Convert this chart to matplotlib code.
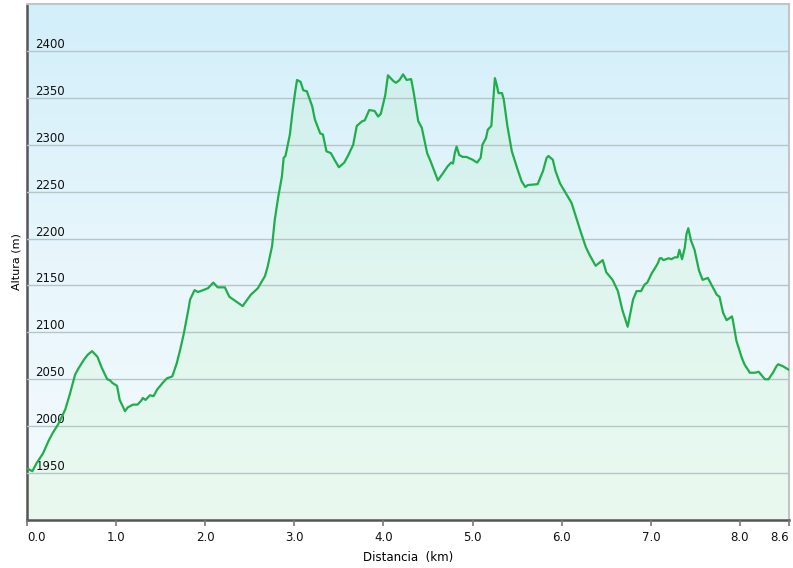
import numpy as np
import matplotlib
matplotlib.use("Agg")
from matplotlib import pyplot as plt
from matplotlib.colors import LinearSegmentedColormap

# Elevation profile (distance in km, altitude in m)
distance_km = [
    0.00, 0.06, 0.11, 0.18, 0.24, 0.29, 0.35, 0.43, 0.48, 0.54,
    0.58, 0.64, 0.68, 0.73, 0.79, 0.84, 0.90, 0.93, 0.96, 1.01,
    1.04, 1.10, 1.13, 1.19, 1.24, 1.28, 1.30, 1.33, 1.38, 1.42,
    1.46, 1.53, 1.57, 1.63, 1.68, 1.72, 1.76, 1.81, 1.83, 1.88,
    1.92, 2.03, 2.09, 2.14, 2.22, 2.27, 2.33, 2.42, 2.51, 2.59,
    2.67, 2.70, 2.75, 2.78, 2.82, 2.86, 2.88, 2.90, 2.95, 2.98,
    3.01, 3.03, 3.07, 3.10, 3.14, 3.20, 3.23, 3.29, 3.32, 3.36,
    3.41, 3.45, 3.50, 3.56, 3.60, 3.66, 3.70, 3.76, 3.79, 3.84,
    3.90, 3.94, 3.97, 4.02, 4.05, 4.11, 4.14, 4.18, 4.22, 4.26,
    4.31, 4.34, 4.39, 4.43, 4.49, 4.53, 4.61, 4.67, 4.72, 4.76,
    4.78, 4.80, 4.82, 4.85, 4.89, 4.93, 5.00, 5.05, 5.09, 5.11,
    5.15, 5.17, 5.21, 5.23, 5.25, 5.27, 5.29, 5.33, 5.35, 5.39,
    5.44, 5.50, 5.55, 5.59, 5.62, 5.73, 5.79, 5.83, 5.85, 5.90,
    5.93, 5.98, 6.01, 6.11, 6.17, 6.21, 6.27, 6.31, 6.38, 6.46,
    6.50, 6.57, 6.63, 6.68, 6.74, 6.80, 6.84, 6.89, 6.93, 6.96,
    7.01, 7.05, 7.08, 7.10, 7.12, 7.14, 7.20, 7.23, 7.27, 7.30,
    7.32, 7.35, 7.38, 7.40, 7.42, 7.45, 7.49, 7.54, 7.58, 7.64,
    7.69, 7.74, 7.77, 7.81, 7.85, 7.91, 7.92, 7.96, 8.02, 8.05,
    8.11, 8.17, 8.21, 8.28, 8.32, 8.37, 8.41, 8.43, 8.48, 8.55,
]
altitude_m = [
    1955, 1952, 1961, 1971, 1984, 1993, 2002, 2018, 2034, 2055,
    2062, 2071, 2076, 2080, 2074, 2062, 2050, 2049, 2046, 2043,
    2028, 2016, 2020, 2023, 2023, 2027, 2030, 2028, 2033, 2032,
    2039, 2047, 2051, 2053, 2067, 2082, 2099, 2124, 2135, 2145,
    2143, 2147, 2153, 2148, 2148, 2138, 2134, 2128, 2140, 2147,
    2160, 2170, 2192, 2220, 2245, 2266, 2286, 2288, 2311, 2336,
    2357, 2369, 2367, 2358, 2357, 2341, 2327, 2312, 2311, 2293,
    2291, 2284, 2276, 2281, 2288, 2300, 2320, 2325, 2326, 2337,
    2336, 2330, 2333, 2353, 2374, 2368, 2366, 2369, 2375, 2369,
    2370, 2355, 2325, 2318, 2291, 2282, 2262, 2270, 2277, 2281,
    2280, 2291, 2298, 2289, 2287, 2287, 2284, 2281, 2286, 2300,
    2307, 2316, 2320, 2345, 2371, 2364, 2355, 2355, 2348, 2320,
    2293, 2275, 2261, 2255, 2257, 2258, 2272, 2286, 2288, 2284,
    2272, 2259, 2254, 2238, 2220, 2208, 2191, 2183, 2171, 2177,
    2164, 2156, 2144, 2124, 2106, 2135, 2144, 2144, 2151, 2153,
    2163, 2169, 2174, 2179, 2179, 2177, 2179, 2178, 2180, 2180,
    2188, 2178, 2190, 2205, 2211, 2198, 2188, 2166, 2156, 2158,
    2149, 2140, 2138, 2121, 2113, 2117, 2113, 2091, 2073, 2066,
    2057, 2057, 2058, 2050, 2050, 2057, 2064, 2066, 2064, 2060,
]

x_ticks = [0, 1, 2, 3, 4, 5, 6, 7, 8, 8.55]
x_tick_labels = ["0.0", "1.0", "2.0", "3.0", "4.0", "5.0", "6.0", "7.0", "8.0", "8.6"]
y_ticks = [1950, 2000, 2050, 2100, 2150, 2200, 2250, 2300, 2350, 2400]

x_max = distance_km[-1]
y_min, y_max = 1900, 2450

fig = plt.figure(figsize=(7.93, 5.68), dpi=100)
ax = fig.add_axes([27 / 793, 48 / 568, 762 / 793, 516 / 568])

# Sky-like background gradient
bg = LinearSegmentedColormap.from_list("bg", ["#f4fbfe", "#e8f6fc", "#d2effa"])
grad = np.linspace(0, 1, 256).reshape(-1, 1)
ax.imshow(grad, cmap=bg, origin="lower", aspect="auto",
          extent=[0, x_max, y_min, y_max], zorder=0)

# faint green wash under the profile
ax.fill_between(distance_km, altitude_m, y_min, color="#90f07c", alpha=0.1,
                linewidth=0, zorder=1)
ax.plot(distance_km, altitude_m, color="#1fae4a", linewidth=1.6, zorder=3,
        solid_joinstyle="round")

ax.set_xlim(0, x_max)
ax.set_ylim(y_min, y_max)

# Grid and inner y labels
ax.set_yticks(y_ticks)
ax.grid(axis="y", color="#b5c5c8", linewidth=1.0, zorder=2)
ax.set_axisbelow(False)
ax.tick_params(axis="y", length=0, pad=-6, labelsize=8.5, labelcolor="#111111")
for lab in ax.get_yticklabels():
    lab.set_horizontalalignment("left")
    lab.set_verticalalignment("bottom")
    lab.set_zorder(4)

ax.set_xticks(x_ticks)
ax.set_xticklabels(x_tick_labels)
ax.tick_params(axis="x", length=4, width=1.2, color="#777777", pad=4,
               labelsize=8.5, labelcolor="#111111")
xlabels = ax.get_xticklabels()
xlabels[0].set_horizontalalignment("left")
xlabels[-1].set_horizontalalignment("right")

for side in ["left", "bottom"]:
    ax.spines[side].set_color("#555555")
    ax.spines[side].set_linewidth(1.8)
for side in ["top", "right"]:
    ax.spines[side].set_color("#c4c4c4")
    ax.spines[side].set_linewidth(1.5)

ax.set_ylabel("Altura (m)", fontsize=8, labelpad=4)
ax.set_xlabel("Distancia  (km)", fontsize=8.5, labelpad=5)

fig.savefig("out.png", dpi=100)
